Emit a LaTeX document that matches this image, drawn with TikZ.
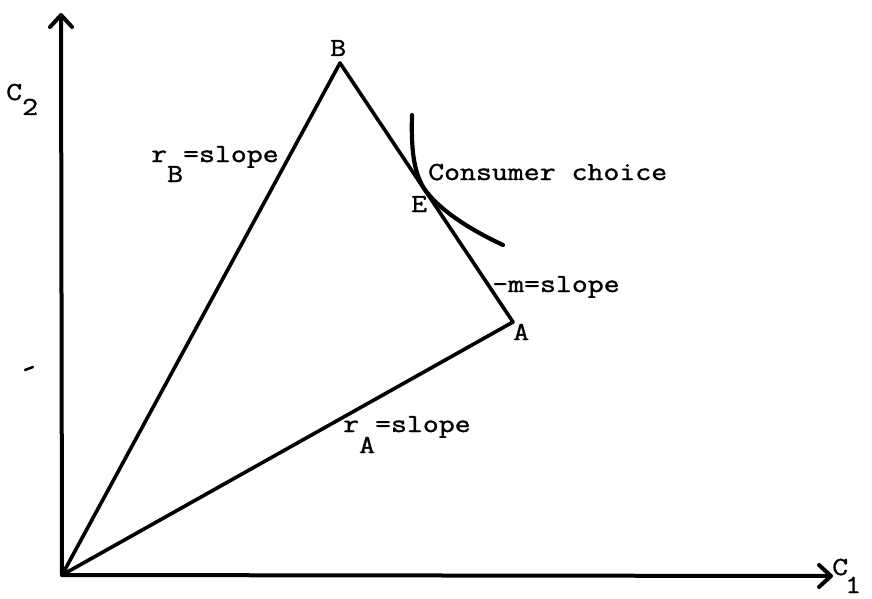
\documentclass[tikz,border=0pt]{standalone}
\usepackage{fontspec}
\setmonofont{Latin Modern Mono}[FakeStretch=1.19,FakeBold=1.3]
\usetikzlibrary{arrows.meta}
\begin{document}
\begin{tikzpicture}[x=1pt,y=-1pt,
  lbl/.style={inner sep=0pt, anchor=base west, font=\ttfamily\fontsize{26}{30}\selectfont},
  edge/.style={line width=3.6pt, line join=round, line cap=round},
  axis/.style={line width=4pt, line cap=round, -{Straight Barb[length=12pt,width=22pt,line cap=round,line join=round]}},
  icurve/.style={line width=4.2pt, line cap=round}]
\useasboundingbox (0,0) rectangle (872,599);
% key points
\coordinate (O) at (62,575);
\coordinate (Ytop) at (61,13);
\coordinate (Xend) at (833,576);
\coordinate (B) at (340,63);
\coordinate (A) at (513,322);
\coordinate (T) at (422,185);
\coordinate (Ct) at (412,115);
\coordinate (Cb) at (503,245);
\coordinate (d1) at (25,370);
\coordinate (d2) at (33,367);
% axes
\draw[axis] (O) -- (Ytop);
\draw[axis] (O) -- (Xend);
% triangle
\draw[edge] (O) -- (B) -- (A) -- cycle;
% indifference curve
\draw[icurve] (Ct) .. controls (411,150) and (414,170) .. (T)
  .. controls (432,203) and (460,225) .. (Cb);
% stray mark
\draw[line width=2.5pt, line cap=round] (d1) -- (d2);
% labels
\node[lbl] (lC2) at (6,100) {C\raisebox{-15pt}{2}};
\node[lbl] (lC1) at (832,575) {C\kern-3pt\raisebox{-18pt}{1}};
\node[lbl] (lB) at (330,56) {B};
\node[lbl] (lA) at (513,340) {A};
\node[lbl] (lE) at (411,212) {E};
\node[lbl] (lcc) at (428,180) {Consumer choice};
\node[lbl] (lm) at (492,292) {-m=slope};
\node[lbl] (lrB) at (151,162) {r\raisebox{-20pt}{B}=slope};
\node[lbl] (lrA) at (343,432) {r\raisebox{-21pt}{A}=slope};
\end{tikzpicture}
\end{document}
